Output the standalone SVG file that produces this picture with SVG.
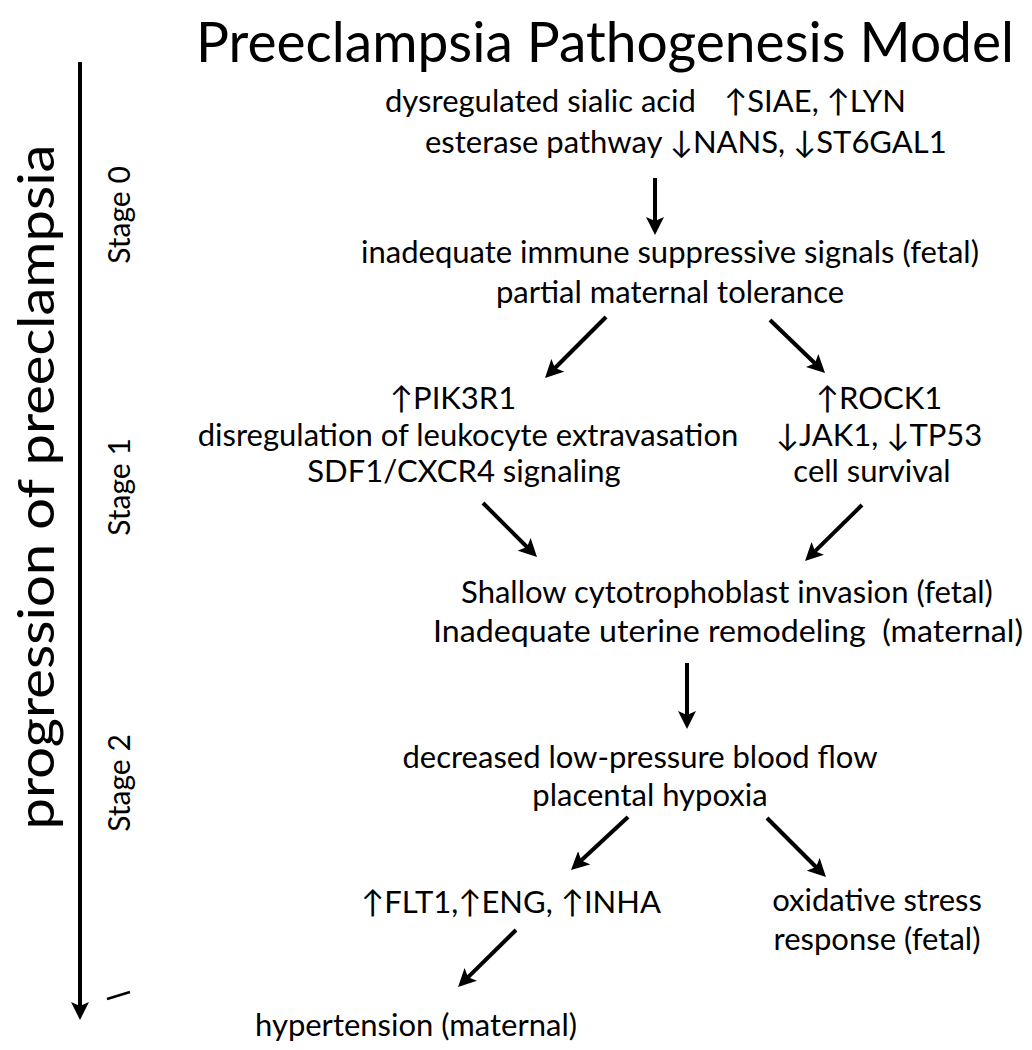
<svg xmlns="http://www.w3.org/2000/svg" width="1032" height="1050" viewBox="0 0 1032 1050">
<defs>
<style>
text{font-family:Lato,"DejaVu Sans",sans-serif;fill:#000;white-space:pre}
.t{font-size:31px}
.c{text-anchor:middle}
.title{font-size:56px;text-anchor:middle}
.vert{font-size:50px;text-anchor:middle}
.stage{font-size:30px;text-anchor:middle}
.arr{stroke:#000;stroke-width:4;fill:none;marker-end:url(#ah)}
</style>
<marker id="ah" markerUnits="userSpaceOnUse" markerWidth="18" markerHeight="18" refX="6" refY="9" orient="auto" viewBox="0 0 18 18">
<path d="M0,0 L18,9 L0,18 L4,9 z" fill="#000"/>
</marker>
</defs>
<rect width="1032" height="1050" fill="#fff"/>
<g id="title"><text class="title" x="605" y="62" textLength="818" lengthAdjust="spacingAndGlyphs">Preeclampsia Pathogenesis Model</text></g>
<g id="axis">
<text class="vert" transform="translate(54,487) rotate(-90)" textLength="685" lengthAdjust="spacingAndGlyphs">progression of preeclampsia</text>
<text class="stage" transform="translate(130,215) rotate(-90)">Stage 0</text>
<text class="stage" transform="translate(130,487) rotate(-90)">Stage 1</text>
<text class="stage" transform="translate(130,783) rotate(-90)">Stage 2</text>
<line x1="107" y1="999" x2="130" y2="992" stroke="#000" stroke-width="2.5"/>
</g>
<g id="connectors">
<line class="arr" x1="80" y1="62" x2="80" y2="1008"/>
<line class="arr" x1="655" y1="178" x2="655" y2="223"/>
<line class="arr" x1="606" y1="317" x2="553.5" y2="369.5"/>
<line class="arr" x1="770" y1="320" x2="816.4" y2="364.7"/>
<line class="arr" x1="483" y1="503" x2="528.5" y2="548.5"/>
<line class="arr" x1="862" y1="505" x2="813.6" y2="552.6"/>
<line class="arr" x1="687" y1="663" x2="687" y2="717"/>
<line class="arr" x1="628" y1="817" x2="579.8" y2="861.8"/>
<line class="arr" x1="767" y1="818" x2="817.5" y2="868.5"/>
<line class="arr" x1="516" y1="930" x2="466.6" y2="978.6"/>
</g>
<g id="n-sialic">
<text class="t" x="385" y="112">dysregulated sialic acid</text>
<text class="t" x="724" y="112">↑SIAE, ↑LYN</text>
<text class="t" x="425" y="153">esterase pathway ↓NANS, ↓ST6GAL1</text>
</g>
<g id="n-immune">
<text class="t c" x="670" y="263">inadequate immune suppressive signals (fetal)</text>
<text class="t c" x="670" y="303">partial maternal tolerance</text>
</g>
<g id="n-pik3r1">
<text class="t c" x="453" y="409">↑PIK3R1</text>
<text class="t c" x="468" y="446">disregulation of leukocyte extravasation</text>
<text class="t c" x="464" y="482">SDF1/CXCR4 signaling</text>
</g>
<g id="n-rock1">
<text class="t c" x="879" y="409">↑ROCK1</text>
<text class="t c" x="879" y="446">↓JAK1, ↓TP53</text>
<text class="t c" x="872" y="482">cell survival</text>
</g>
<g id="n-invasion">
<text class="t c" x="727" y="603">Shallow cytotrophoblast invasion (fetal)</text>
<text class="t c" x="728" y="642" textLength="590" lengthAdjust="spacingAndGlyphs">Inadequate uterine remodeling  (maternal)</text>
</g>
<g id="n-hypoxia">
<text class="t c" x="640" y="768">decreased low-pressure blood flow</text>
<text class="t c" x="650" y="806">placental hypoxia</text>
</g>
<g id="n-flt1">
<text class="t c" x="511" y="913">↑FLT1,↑ENG, ↑INHA</text>
</g>
<g id="n-oxidative">
<text class="t c" x="877" y="911">oxidative stress</text>
<text class="t c" x="877" y="950">response (fetal)</text>
</g>
<g id="n-hypertension">
<text class="t c" x="416" y="1036">hypertension (maternal)</text>
</g>
</svg>
